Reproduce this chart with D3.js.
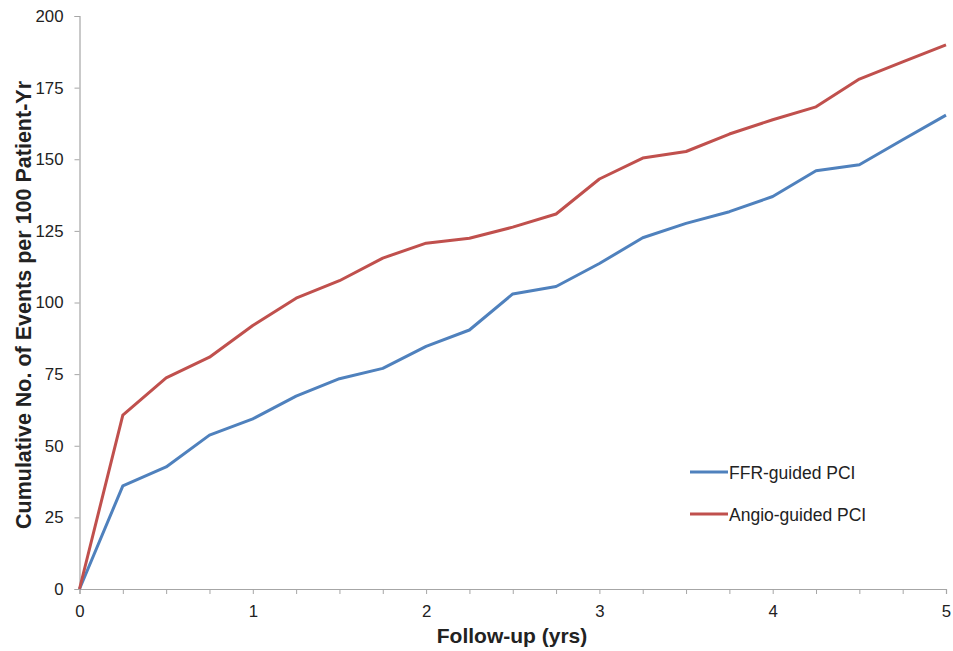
<!DOCTYPE html>
<html><head><meta charset="utf-8">
<script src="https://cdn.jsdelivr.net/npm/d3@7"></script>
<style>body{margin:0;background:#fff}svg{display:block}text{font-family:"Liberation Sans",Arial,sans-serif}</style>
</head><body>
<script>
const years = [0,0.25,0.5,0.75,1,1.25,1.5,1.75,2,2.25,2.5,2.75,3,3.25,3.5,3.75,4,4.25,4.5,4.75,5];
const ffr   = [0,36,42.6,53.7,59.4,67.3,73.4,77,84.7,90.4,103,105.6,113.6,122.6,127.6,131.7,137,146,148.1,156.8,165.4];
const angio = [0,60.7,73.7,80.9,92,101.5,107.6,115.5,120.7,122.4,126.3,130.9,143.1,150.4,152.7,158.8,163.8,168.3,178,184,189.9];
const seriesNames = ["FFR-guided PCI","Angio-guided PCI"];
const colors = ["#4F81BD","#C0504D"];
const yTicks = [0,25,50,75,100,125,150,175,200];
const xMajor = [0,1,2,3,4,5];

const W=953,H=651;
const svg=d3.select("body").append("svg").attr("width",W).attr("height",H);
const x=d3.scaleLinear().domain([0,5]).range([79.5,946]);
const y=d3.scaleLinear().domain([0,200]).range([589,16]);
const FONT="Liberation Sans, Arial, sans-serif";

// y axis
const ya=svg.append("g").attr("transform","translate(79.5,0)")
  .call(d3.axisLeft(y).tickValues(yTicks).tickSize(5).tickPadding(11).tickFormat(d3.format("d")));
ya.select(".domain").attr("stroke","#a6a6a6").attr("stroke-width",1.2);
ya.selectAll(".tick line").attr("stroke","#a6a6a6");
ya.selectAll("text").attr("font-size",16.8).attr("fill","#222").style("font-family",FONT);

// x axis
const xa=svg.append("g").attr("transform","translate(0,589)")
  .call(d3.axisBottom(x).tickValues(years).tickSize(5).tickPadding(11)
    .tickFormat(d=>xMajor.includes(d)?d3.format("d")(d):""));
xa.select(".domain").attr("stroke","#a6a6a6").attr("stroke-width",1.2);
xa.selectAll(".tick line").attr("stroke","#a6a6a6");
xa.selectAll("text").attr("font-size",16.8).attr("fill","#222").style("font-family",FONT);

const line=d3.line().x((d,i)=>x(years[i])).y(d=>y(d));
[ffr,angio].forEach((s,k)=>{
  svg.append("path").datum(s).attr("d",line).attr("fill","none")
    .attr("stroke",colors[k]).attr("stroke-width",3).attr("stroke-linejoin","round");
});

// legend
seriesNames.forEach((n,k)=>{
  const ly=472+k*42;
  svg.append("line").attr("x1",690).attr("x2",728).attr("y1",ly).attr("y2",ly)
    .attr("stroke",colors[k]).attr("stroke-width",3);
  svg.append("text").attr("x",729).attr("y",ly+6.5).attr("font-size",17.5).attr("fill","#222").text(n);
});

// titles
svg.append("text").attr("x",512).attr("y",643).attr("text-anchor","middle")
  .attr("font-size",21).attr("font-weight","bold").attr("fill","#222").text("Follow-up (yrs)");
svg.append("text").attr("transform","translate(31,305) rotate(-90)").attr("text-anchor","middle")
  .attr("font-size",21.5).attr("font-weight","bold").attr("fill","#222").text("Cumulative No. of Events per 100 Patient-Yr");
</script>
</body></html>
